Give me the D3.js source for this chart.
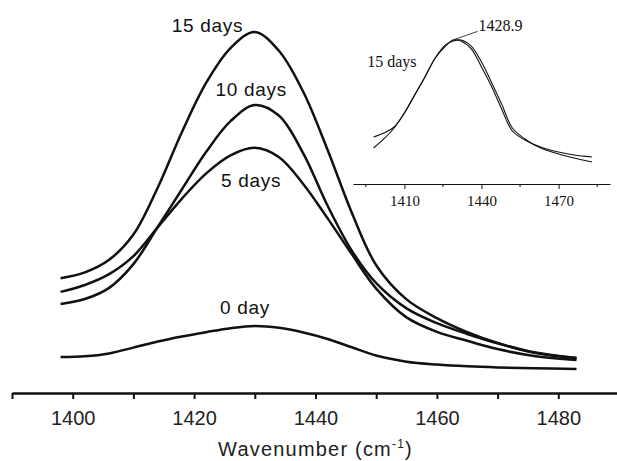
<!DOCTYPE html>
<html>
<head>
<meta charset="utf-8">
<script src="https://cdn.jsdelivr.net/npm/d3@7"></script>
<style>
  html, body { margin: 0; padding: 0; background: #fff; }
  svg { display: block; }
</style>
</head>
<body>
<div id="chart"></div>
<script>
// wavenumber grid (cm-1) shared by the four main spectra
const wavenumbers = [1398, 1402, 1406, 1410, 1414, 1418, 1422, 1426, 1430, 1434,
  1438, 1442, 1446, 1450, 1455, 1460, 1465, 1470, 1476, 1483];

// intensity, arbitrary units
const day0 = [10.0, 10.2, 11.0, 12.6, 14.3, 15.7, 16.9, 18.0, 18.6, 18.1,
  16.8, 15.0, 12.7, 10.4, 8.7, 7.9, 7.4, 7.1, 6.9, 6.7];
const day5 = [28.1, 30.0, 33.0, 38.0, 46.0, 54.0, 61.0, 66.0, 68.1, 65.5,
  58.0, 48.5, 38.5, 29.0, 21.0, 17.0, 14.5, 12.2, 10.3, 9.2];
const day10 = [24.7, 26.1, 29.2, 35.8, 46.1, 56.6, 67.0, 75.5, 80.0, 77.0,
  66.5, 52.0, 39.5, 30.5, 23.5, 19.4, 16.4, 13.8, 11.3, 9.7];
const day15 = [31.9, 33.5, 37.0, 44.0, 57.0, 72.5, 86.2, 95.8, 100.3, 95.0,
  83.6, 67.5, 50.0, 35.5, 26.0, 20.8, 16.9, 13.9, 11.2, 9.7];

const seriesNames = ["0 day", "5 days", "10 days", "15 days"];
const seriesValues = [day0, day5, day10, day15];
// where each curve label sits, in data units [wavenumber, intensity]
const labelSpots = [[1428.4, 21.9], [1429.4, 57.2], [1429.4, 82.5], [1422.2, 100.3]];

const mainTicks = d3.range(1390, 1491, 10);

// inset: 15 days band, measured vs fitted
const insetWavenumbers = [1398, 1402, 1406, 1410, 1414, 1418, 1422, 1426, 1429, 1432,
  1436, 1440, 1444, 1448, 1452, 1458, 1464, 1470, 1476, 1483];
const insetA = [32.6, 35.4, 39.6, 49.3, 61.8, 74.3, 87.5, 95.8, 100, 99.3,
  93.8, 81.3, 67.4, 51.4, 36.8, 29.5, 25.0, 22.2, 20.1, 18.8];
const insetB = [25.0, 31.3, 38.9, 49.3, 61.8, 74.3, 87.5, 96.5, 99.3, 100,
  95.8, 84.7, 70.1, 54.9, 38.9, 29.9, 24.3, 20.8, 18.1, 15.3];
const insetMajor = [1410, 1440, 1470];
const insetMinor = [1395, 1425, 1455, 1485];
const peakPos = 1428.9;

const width = 617, height = 461;

const svg = d3.select("#chart").append("svg")
  .attr("width", width)
  .attr("height", height);

// main scales
const x = d3.scaleLinear().domain([1390, 1490]).range([12, 619]);
const y = d3.scaleLinear().domain([0, 100]).range([393, 33]);

const line = d3.line()
  .x(d => x(d[0]))
  .y(d => y(d[1]))
  .curve(d3.curveCatmullRom.alpha(0.5));

seriesValues.forEach(vals => {
  svg.append("path")
    .datum(wavenumbers.map((w, i) => [w, vals[i]]))
    .attr("fill", "none")
    .attr("stroke", "#111")
    .attr("stroke-width", 2.5)
    .attr("stroke-linejoin", "round")
    .attr("d", line);
});

// curve labels
svg.selectAll(".curve-label")
  .data(seriesNames)
  .enter()
  .append("text")
  .attr("class", "curve-label")
  .attr("x", (d, i) => x(labelSpots[i][0]))
  .attr("y", (d, i) => y(labelSpots[i][1]))
  .attr("text-anchor", "middle")
  .style("font-family", "'Liberation Sans', Arial, sans-serif")
  .style("font-size", "19px")
  .style("letter-spacing", "0.7px")
  .attr("fill", "#111")
  .text(d => d);

// X Axis
const xAxis = svg.append("g")
  .attr("transform", `translate(0,${y(0)})`)
  .call(d3.axisBottom(x)
    .tickValues(mainTicks)
    .tickSize(6)
    .tickSizeOuter(0)
    .tickPadding(12)
    .tickFormat(d => d % 20 === 0 ? d : ""));

xAxis.select(".domain").attr("stroke", "#111").attr("stroke-width", 2.5);
xAxis.selectAll(".tick line").attr("stroke", "#111").attr("stroke-width", 2);
xAxis.selectAll(".tick text")
  .attr("fill", "#222")
  .style("font-family", "'Liberation Sans', Arial, sans-serif")
  .style("font-size", "20px");

// X Axis Label
const xLabel = svg.append("text")
  .attr("x", (x.range()[0] + x.range()[1]) / 2)
  .attr("y", 456)
  .attr("text-anchor", "middle")
  .attr("fill", "#222")
  .style("font-family", "'Liberation Sans', Arial, sans-serif")
  .style("font-size", "20px")
  .style("letter-spacing", "1.2px");
xLabel.append("tspan").text("Wavenumber (cm");
xLabel.append("tspan").attr("dy", -8).style("font-size", "12px").text("-1");
xLabel.append("tspan").attr("dy", 8).text(")");

// ---- inset ----
const ix = d3.scaleLinear().domain([1390, 1490]).range([353, 610]);
const iy = d3.scaleLinear().domain([0, 100]).range([184, 40]);

const insetLine = d3.line()
  .x(d => ix(d[0]))
  .y(d => iy(d[1]))
  .curve(d3.curveCatmullRom.alpha(0.5));

[insetA, insetB].forEach(vals => {
  svg.append("path")
    .datum(insetWavenumbers.map((w, i) => [w, vals[i]]))
    .attr("fill", "none")
    .attr("stroke", "#111")
    .attr("stroke-width", 1.1)
    .attr("d", insetLine);
});

const insetAxis = svg.append("g")
  .attr("transform", `translate(0,${iy(0)})`)
  .call(d3.axisBottom(ix)
    .tickValues(insetMajor)
    .tickSize(5)
    .tickSizeOuter(0)
    .tickPadding(6)
    .tickFormat(d3.format("d")));
insetAxis.select(".domain").attr("stroke", "#111").attr("stroke-width", 1.2);
insetAxis.selectAll(".tick line").attr("stroke", "#111");
insetAxis.selectAll(".tick text")
  .attr("fill", "#111")
  .style("font-family", "'Liberation Serif', 'Times New Roman', serif")
  .style("font-size", "15px");

svg.append("g")
  .selectAll("line")
  .data(insetMinor)
  .enter()
  .append("line")
  .attr("x1", d => ix(d))
  .attr("x2", d => ix(d))
  .attr("y1", iy(0))
  .attr("y2", iy(0) + 3)
  .attr("stroke", "#111");

// inset annotations
svg.append("text")
  .attr("x", ix(1395.5))
  .attr("y", iy(81.5))
  .style("font-family", "'Liberation Serif', 'Times New Roman', serif")
  .style("font-size", "16px")
  .attr("fill", "#111")
  .text("15 days");

svg.append("line")
  .attr("x1", ix(peakPos))
  .attr("y1", iy(100))
  .attr("x2", ix(1438.5))
  .attr("y2", iy(106))
  .attr("stroke", "#111")
  .attr("stroke-width", 0.8);

svg.append("text")
  .attr("x", ix(1438.8))
  .attr("y", iy(106.5))
  .style("font-family", "'Liberation Serif', 'Times New Roman', serif")
  .style("font-size", "16px")
  .attr("fill", "#111")
  .text(peakPos.toFixed(1));
</script>
</body>
</html>
